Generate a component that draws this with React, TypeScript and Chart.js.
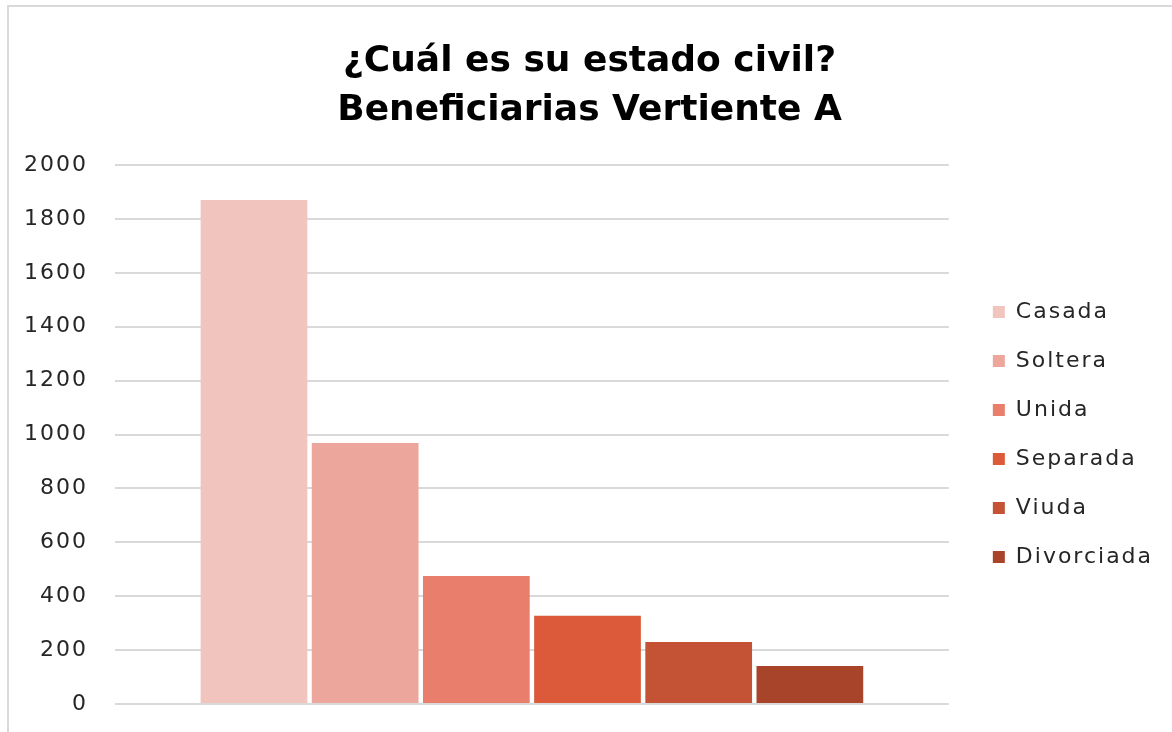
import React, { useEffect, useRef } from "react";
import { Chart, registerables } from "chart.js";

Chart.register(...registerables);

const categories = [""];
const seriesNames = ["Casada", "Soltera", "Unida", "Separada", "Viuda", "Divorciada"];
const seriesValues = [1870, 968, 475, 327, 230, 141];
const seriesColors = ["#F2C4BE", "#ECA69C", "#E87E6B", "#DC5A3A", "#C45234", "#A8442A"];
const yTicks = [0, 200, 400, 600, 800, 1000, 1200, 1400, 1600, 1800, 2000];
const titleLines = ["¿Cuál es su estado civil?", "Beneficiarias Vertiente A"];

const letterSpacingPlugin = {
  id: "letterSpacing",
  beforeLayout(chart: any) {
    chart.ctx.letterSpacing = "2px";
  },
  beforeDraw(chart: any) {
    chart.ctx.letterSpacing = "2px";
    const tb = chart.titleBlock;
    if (tb && !tb.__patched) {
      const orig = tb.draw.bind(tb);
      tb.draw = (...args: any[]) => {
        const c = chart.ctx;
        c.save();
        c.letterSpacing = "0px";
        orig(...args);
        c.restore();
      };
      tb.__patched = true;
    }
  },
};

export default function App() {
  const ref = useRef<HTMLCanvasElement>(null);
  useEffect(() => {
    if (!ref.current) return;
    const chart = new Chart(ref.current, {
      type: "bar",
      data: {
        labels: categories,
        datasets: seriesNames.map((name, i) => ({
          label: name,
          data: [seriesValues[i]],
          backgroundColor: seriesColors[i],
          borderWidth: 0,
          barPercentage: 0.96,
          categoryPercentage: 0.8,
          yAxisID: "y",
        })),
      },
      plugins: [letterSpacingPlugin],
      options: {
        animation: false,
        responsive: false,
        maintainAspectRatio: false,
        layout: { padding: { left: 16, right: 27, top: 0, bottom: 28 } },
        plugins: {
          title: {
            display: true,
            text: titleLines,
            color: "#000000",
            font: { family: "DejaVu Sans", size: 36, weight: "bold", lineHeight: "49px" },
            padding: { top: 30, bottom: 30 },
          },
          legend: {
            display: true,
            position: "right",
            align: "center",
            fullSize: false,
            labels: {
              boxWidth: 12,
              boxHeight: 12,
              padding: 27,
              color: "#262626",
              font: { family: "DejaVu Sans", size: 22 },
            },
          },
          tooltip: { enabled: false },
        },
        scales: {
          x: {
            display: false,
            grid: { display: false },
          },
          y: {
            min: 0,
            max: 2000,
            afterBuildTicks: (s: any) => {
              s.ticks = yTicks.map((v) => ({ value: v }));
            },
            afterFit: (s: any) => {
              s.width = 90;
              s.paddingTop = 0;
              s.paddingBottom = 0;
            },
            ticks: {
              callback: (v: any) => String(v),
              padding: 27,
              color: "#262626",
              font: { family: "DejaVu Sans", size: 22 },
            },
            border: { display: false },
            grid: { color: "#D9D9D9", lineWidth: 2, drawTicks: false },
          },
          y2: {
            type: "linear",
            position: "right",
            display: true,
            min: 0,
            max: 2000,
            afterFit: (s: any) => {
              s.width = 17;
              s.paddingTop = 0;
              s.paddingBottom = 0;
            },
            ticks: { display: false },
            border: { display: false },
            grid: { drawOnChartArea: false, drawTicks: false, display: false },
          },
        },
      },
    });
    return () => chart.destroy();
  }, []);
  return (
    <div style={{ position: "absolute", left: 0, top: 0, width: 1172, height: 732, overflow: "hidden", background: "#fff" }}>
      <div style={{ position: "absolute", left: 7, top: 5, width: 1200, height: 760, borderLeft: "2px solid #D9D9D9", borderTop: "2px solid #D9D9D9" }} />
      <canvas ref={ref} width={1172} height={725} style={{ position: "absolute", left: 9, top: 7 }} />
    </div>
  );
}
